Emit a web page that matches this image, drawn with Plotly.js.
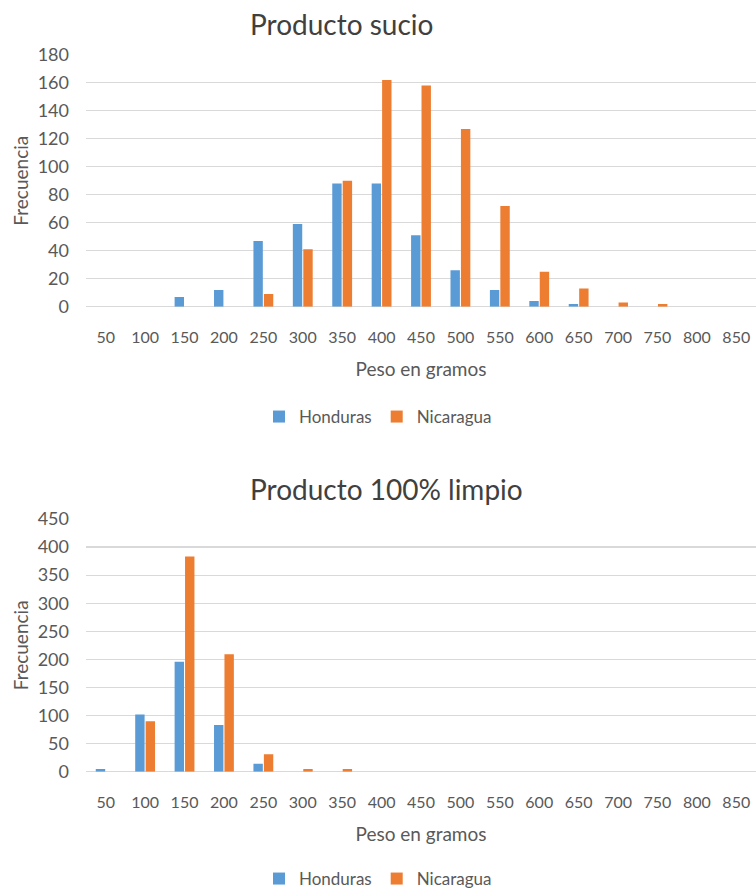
<!DOCTYPE html>
<html>
<head>
<meta charset="utf-8">
<script src="https://cdn.plot.ly/plotly-3.0.1.min.js"></script>
<style>
  html, body { margin: 0; padding: 0; background: #ffffff; overflow: hidden; }
  #chart { width: 756px; height: 890px; }
</style>
</head>
<body>
<div id="chart"></div>
<script>
// ---- Data ----
const categories = ['50','100','150','200','250','300','350','400','450','500','550','600','650','700','750','800','850'];
const seriesNames = ['Honduras', 'Nicaragua'];

// Producto sucio
const sucioHonduras  = [0, 0, 7, 12, 47, 59, 88, 88, 51, 26, 12, 4, 2, 0, 0, 0, 0];
const sucioNicaragua = [0, 0, 0, 0, 9, 41, 90, 162, 158, 127, 72, 25, 13, 3, 2, 0, 0];

// Producto 100% limpio
const limpioHonduras  = [5, 102, 196, 83, 14, 0, 0, 0, 0, 0, 0, 0, 0, 0, 0, 0, 0];
const limpioNicaragua = [0, 90, 383, 209, 31, 5, 5, 0, 0, 0, 0, 0, 0, 0, 0, 0, 0];

const titles = ['Producto sucio', 'Producto 100% limpio'];
const xTitle = 'Peso en gramos';
const yTitle = 'Frecuencia';

// ---- Styling ----
const W = 756, H = 890;
const blue = '#5B9BD5', orange = '#ED7D31';
const grid = '#D9D9D9';
const txt = '#595959';
const FONT = 'Lato, "Open Sans", sans-serif';

function py(px) { return 1 - px / H; }

const traces = [
  { type: 'bar', x: categories, y: sucioHonduras, name: seriesNames[0], marker: { color: blue }, xaxis: 'x', yaxis: 'y', legend: 'legend' },
  { type: 'bar', x: categories, y: sucioNicaragua, name: seriesNames[1], marker: { color: orange }, xaxis: 'x', yaxis: 'y', legend: 'legend' },
  { type: 'bar', x: categories, y: limpioHonduras, name: seriesNames[0], marker: { color: blue }, xaxis: 'x2', yaxis: 'y2', legend: 'legend2' },
  { type: 'bar', x: categories, y: limpioNicaragua, name: seriesNames[1], marker: { color: orange }, xaxis: 'x2', yaxis: 'y2', legend: 'legend2' }
];

const xDomain = [86 / W, 1];

function xAxis(anchor) {
  return {
    type: 'category', domain: xDomain, anchor: anchor,
    range: [-0.5, 16.5], showgrid: false, showline: false, zeroline: false,
    ticks: '', ticklabelstandoff: 19, automargin: false,
    tickfont: { family: FONT, size: 16, color: txt },
    title: { text: xTitle, font: { family: FONT, size: 19, color: txt }, standoff: 17 },
    fixedrange: true
  };
}
function yAxis(anchor, domain, max, dtick) {
  return {
    domain: domain, anchor: anchor, range: [0, max], dtick: dtick,
    showgrid: true, gridcolor: grid, gridwidth: 1.3,
    zeroline: true, zerolinecolor: grid, zerolinewidth: 1.3,
    showline: false, ticks: '', ticklabelstandoff: 16, automargin: false,
    tickfont: { family: FONT, size: 18, color: txt },
    title: { text: yTitle, font: { family: FONT, size: 19, color: txt }, standoff: 4 },
    fixedrange: true
  };
}

const legendCommon = {
  orientation: 'h', xanchor: 'center', yanchor: 'middle',
  font: { family: FONT, size: 17, color: txt },
  bgcolor: 'rgba(0,0,0,0)', itemclick: false, itemdoubleclick: false
};

const layout = {
  width: W, height: H,
  margin: { l: 0, r: 0, t: 0, b: 0, pad: 0, autoexpand: false },
  paper_bgcolor: '#ffffff', plot_bgcolor: '#ffffff',
  barmode: 'group', bargap: 0.47, bargroupgap: 0.1,
  showlegend: true,
  xaxis: xAxis('y'),
  yaxis: yAxis('x', [py(306.7), py(54.7)], 180, 20),
  xaxis2: xAxis('y2'),
  yaxis2: yAxis('x2', [py(771.7), py(519)], 450, 50),
  legend: Object.assign({}, legendCommon, { x: 378 / W, y: py(417) }),
  legend2: Object.assign({}, legendCommon, { x: 378 / W, y: py(879) }),
  annotations: [
    { text: titles[0], xref: 'paper', yref: 'paper', x: 341 / W, y: py(23.5), xanchor: 'center', yanchor: 'middle', showarrow: false, font: { family: FONT, size: 28, color: '#404040' } },
    { text: titles[1], xref: 'paper', yref: 'paper', x: 386.5 / W, y: py(489), xanchor: 'center', yanchor: 'middle', showarrow: false, font: { family: FONT, size: 28, color: '#404040' } }
  ]
};

Plotly.newPlot('chart', traces, layout, { displayModeBar: false, staticPlot: true });
</script>
</body>
</html>
